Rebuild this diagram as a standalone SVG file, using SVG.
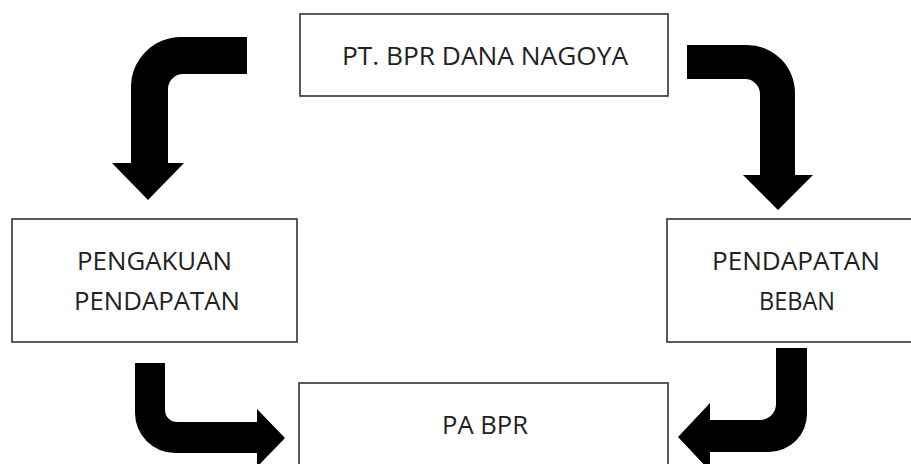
<svg xmlns="http://www.w3.org/2000/svg" width="911" height="464" viewBox="0 0 911 464">
<style>
.box{fill:#fff;stroke:#333;stroke-width:1.6}
.lbl{font-family:"Open Sans","Liberation Sans",sans-serif;fill:#222;text-anchor:middle}
.arr{fill:#000}
</style>
<rect width="911" height="464" fill="#fff"/>
<g id="connectors">
<path class="arr" d="M247,37 L181,37 A50,50 0 0 0 131,87 L131,163 L112,163 L148,200 L184,163 L168,163 L168,89 A15,15 0 0 1 183,74 L247,74 Z"/>
<path class="arr" d="M687,45 L747,45 A48,48 0 0 1 795,93 L795,175 L813,175 L778,210 L743,175 L760,175 L760,94 A15,15 0 0 0 745,79 L687,79 Z"/>
<path class="arr" d="M135,363 L165,363 L165,410 A12,12 0 0 0 177,422 L257,422 L257,409 L285,438 L257,467 L257,453 L175,453 A40,40 0 0 1 135,413 Z"/>
<path class="arr" d="M776,348 L807,348 L807,414 A38,38 0 0 1 769,452 L710,452 L710,471 L678,437 L710,403 L710,420 L760,420 A16,16 0 0 0 776,404 Z"/>
</g>
<g id="node-bpr">
<rect class="box" x="300" y="14" width="368" height="82"/>
<text class="lbl" x="485" y="65" font-size="26" textLength="286" lengthAdjust="spacingAndGlyphs">PT. BPR DANA NAGOYA</text>
</g>
<g id="node-pengakuan">
<rect class="box" x="12" y="219" width="285" height="123"/>
<text class="lbl" x="154.5" y="270" font-size="25" textLength="155" lengthAdjust="spacingAndGlyphs">PENGAKUAN</text>
<text class="lbl" x="157" y="310" font-size="25" textLength="166" lengthAdjust="spacingAndGlyphs">PENDAPATAN</text>
</g>
<g id="node-pendapatan">
<rect class="box" x="667" y="219" width="260" height="123"/>
<text class="lbl" x="796" y="270" font-size="25" textLength="168" lengthAdjust="spacingAndGlyphs">PENDAPATAN</text>
<text class="lbl" x="797" y="310" font-size="25" textLength="76" lengthAdjust="spacingAndGlyphs">BEBAN</text>
</g>
<g id="node-pabpr">
<rect class="box" x="299" y="383" width="369" height="100"/>
<text class="lbl" x="485" y="434" font-size="26" textLength="86" lengthAdjust="spacingAndGlyphs">PA BPR</text>
</g>
</svg>
